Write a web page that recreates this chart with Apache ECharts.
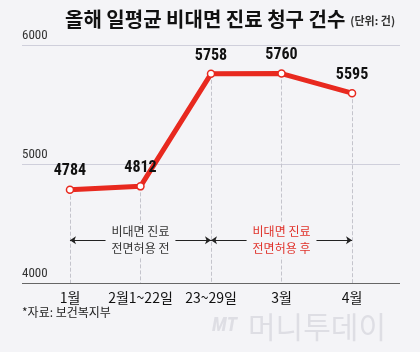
<!DOCTYPE html>
<html>
<head>
<meta charset="utf-8">
<script src="https://cdn.jsdelivr.net/npm/echarts@6/dist/echarts.min.js"></script>
<style>
  html, body { margin: 0; padding: 0; background: #f4f4f7; }
  #chart { width: 420px; height: 352px; }
</style>
</head>
<body>
<div id="chart"></div>
<script>
const categories = ['1월', '2월1~22일', '23~29일', '3월', '4월']
const claims = [4784, 4812, 5758, 5760, 5595]
const yTicks = [4000, 5000, 6000]
const periodBefore = { from: 0, to: 2, label: '비대면 진료\n전면허용 전' }
const periodAfter = { from: 2, to: 4, label: '비대면 진료\n전면허용 후' }
const arrowLevel = 4360

const RED = '#e8291f'
const BG = '#f4f4f7'
const KR = "'Noto Sans CJK KR', sans-serif"
const NUM = "'Liberation Sans Narrow', 'Roboto Condensed', 'Liberation Sans', sans-serif"

const points = claims.map((v, i) => [i, v])

const chart = echarts.init(document.getElementById('chart'), null, { renderer: 'canvas' })

chart.setOption({
  backgroundColor: BG,
  animation: false,
  title: {
    left: 60,
    top: 4,
    text: '{a|올해 일평균 비대면 진료 청구 건수} {b|(단위: 건)}',
    textStyle: {
      rich: {
        a: { fontFamily: KR, fontSize: 20, fontWeight: 'bold', color: '#111' },
        b: { fontFamily: KR, fontSize: 11, color: '#333', padding: [4, 0, 0, 0] }
      }
    }
  },
  grid: {
    left: 22,
    right: 20,
    top: 45,
    bottom: 69
  },
  xAxis: {
    type: 'value',
    min: -0.68,
    max: 4.68,
    axisLine: { show: false },
    axisTick: { show: false },
    splitLine: { show: false },
    axisLabel: {
      customValues: categories.map((_, i) => i),
      formatter: (v) => categories[Math.round(v)],
      color: '#111',
      fontFamily: KR,
      fontSize: 14,
      margin: 8
    }
  },
  yAxis: {
    type: 'value',
    min: yTicks[0],
    max: yTicks[yTicks.length - 1],
    interval: yTicks[1] - yTicks[0],
    axisLine: { show: false },
    axisTick: { show: false },
    axisLabel: {
      inside: true,
      margin: 0,
      verticalAlign: 'bottom',
      padding: [0, 0, 3, 0],
      color: '#333',
      fontFamily: NUM,
      fontSize: 13,
      formatter: (v) => String(v)
    },
    splitLine: {
      lineStyle: { color: '#cfcfdb', width: 1 }
    }
  },
  series: [
    {
      // drop lines
      type: 'line',
      data: [],
      z: 1,
      markLine: {
        silent: true,
        animation: false,
        symbol: 'none',
        label: { show: false },
        lineStyle: { color: '#c4c4cc', type: 'dashed', width: 1 },
        data: points.map(([x, y]) => [
          { coord: [x, y] },
          { coord: [x, yTicks[0]] }
        ])
      }
    },
    {
      // period arrows
      type: 'line',
      data: [],
      z: 2,
      markLine: {
        silent: true,
        animation: false,
        symbol: ['arrow', 'arrow'],
        symbolSize: [6, 6],
        data: [periodBefore, periodAfter].map((p, k) => [
          {
            coord: [p.from, arrowLevel],
            lineStyle: { color: '#222', type: 'solid', width: 1 },
            label: {
              show: true,
              position: 'middle',
              distance: 0,
              verticalAlign: 'middle',
              formatter: p.label,
              color: k === 0 ? '#333' : '#e0322b',
              fontFamily: KR,
              fontSize: 12,
              lineHeight: 17,
              align: 'center',
              backgroundColor: BG,
              padding: [0, 6]
            }
          },
          { coord: [p.to, arrowLevel] }
        ])
      }
    },
    {
      // bottom axis line at 4000
      type: 'line',
      data: [],
      z: 3,
      markLine: {
        silent: true,
        animation: false,
        symbol: 'none',
        label: { show: false },
        lineStyle: { color: '#666', type: 'solid', width: 1 },
        data: [[{ coord: [-0.68, yTicks[0]] }, { coord: [4.68, yTicks[0]] }]]
      }
    },
    {
      type: 'line',
      data: points,
      z: 5,
      symbol: 'circle',
      symbolSize: 7,
      itemStyle: { color: '#fff', borderColor: RED, borderWidth: 1.5 },
      lineStyle: { color: RED, width: 5 },
      label: {
        show: true,
        position: 'top',
        distance: 6,
        color: '#111',
        fontFamily: NUM,
        fontWeight: 'bold',
        fontSize: 16
      }
    }
  ],
  graphic: [
    {
      type: 'text',
      left: 22,
      top: 306,
      style: { text: '*자료: 보건복지부', fill: '#222', font: `12px ${KR}` }
    },
    {
      type: 'text',
      left: 212,
      top: 316,
      style: { text: 'MT', fill: '#dedee4', font: `italic bold 20px ${NUM}` }
    },
    {
      type: 'text',
      left: 248,
      top: 312,
      style: { text: '머니투데이', fill: '#dedee4', font: `30px ${KR}` }
    }
  ]
})
</script>
</body>
</html>
